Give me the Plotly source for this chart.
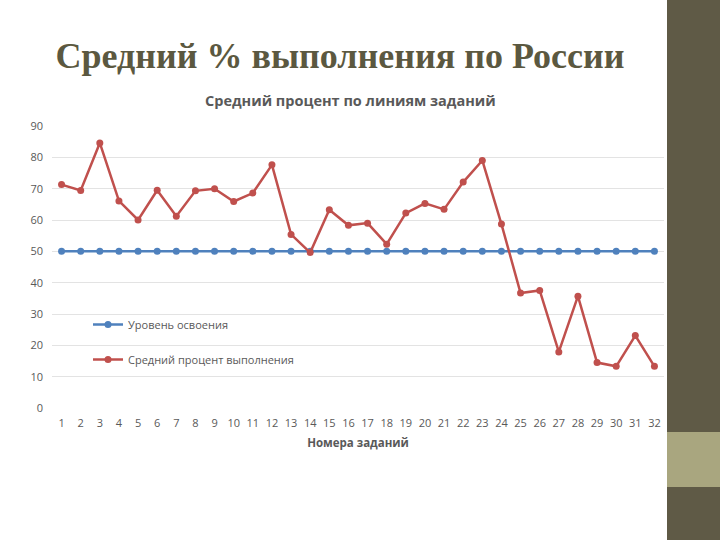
import plotly.graph_objects as go

tasks = list(range(1, 33))
mastery_level = [50] * 32
avg_percent = [71.3, 69.4, 84.6, 66.1, 60.0, 69.5, 61.2, 69.3, 70.0, 65.9, 68.6, 77.6,
               55.4, 49.6, 63.3, 58.3, 59.0, 52.3, 62.2, 65.3, 63.4, 72.1, 79.0, 58.7,
               36.7, 37.5, 17.9, 35.7, 14.5, 13.3, 23.1, 13.3]
series_names = ["Уровень освоения", "Средний процент выполнения"]
slide_title = "Средний % выполнения по России"
chart_title = "Средний процент по линиям заданий"
x_title = "Номера заданий"

BLUE = "#4f81bd"
RED = "#c0504d"
GRAY = "#595959"

fig = go.Figure()
fig.add_trace(go.Scatter(x=tasks, y=mastery_level, mode="lines+markers", name=series_names[0],
                         line=dict(color=BLUE, width=2.5), marker=dict(size=7, color=BLUE),
                         legendgroup="a"))
fig.add_trace(go.Scatter(x=tasks, y=avg_percent, mode="lines+markers", name=series_names[1],
                         line=dict(color=RED, width=2.5), marker=dict(size=7, color=RED),
                         legendgroup="b"))

L, R, T, B = 52, 56, 126, 132
W, H = 720, 540
pw = W - L - R
ph = H - T - B

def px_x(x):
    return (x - L) / pw

def px_y(y):
    return (H - B - y) / ph

fig.update_layout(
    width=W, height=H,
    margin=dict(l=L, r=R, t=T, b=B),
    paper_bgcolor="white", plot_bgcolor="white",
    font=dict(family="Open Sans, Liberation Sans, Arial, sans-serif", color=GRAY, size=11),
    title=dict(text="<b>" + slide_title + "</b>", x=340 / W, xref="container", xanchor="center",
               y=1 - 55 / H, yref="container", yanchor="middle",
               font=dict(family="Liberation Serif, Times New Roman, serif", size=36, color="#5b5840")),
    showlegend=True,
    legend=dict(x=px_x(88), y=px_y(310), xanchor="left", yanchor="top",
                bgcolor="rgba(0,0,0,0)", traceorder="grouped", tracegroupgap=16,
                font=dict(size=11, color=GRAY)),
    xaxis=dict(range=[0.5, 32.5], tickmode="array", tickvals=tasks, ticktext=[str(t) for t in tasks],
               showgrid=False, zeroline=False, showline=False, ticks="", ticklabelstandoff=7,
               tickfont=dict(size=11, color=GRAY),
               title=dict(text="<b>" + x_title + "</b>", font=dict(size=11.5, color=GRAY), standoff=9)),
    yaxis=dict(range=[0, 90], tickmode="linear", dtick=10, showgrid=True, gridcolor="#e3e3e3",
               gridwidth=1, zeroline=False, showline=False, ticks="", ticklabelstandoff=8,
               tickfont=dict(size=11, color=GRAY)),
    annotations=[dict(text="<b>" + chart_title + "</b>", xref="paper", yref="paper",
                      x=px_x(350), y=px_y(101), xanchor="center", yanchor="middle",
                      showarrow=False, font=dict(size=14.5, color=GRAY))],
    shapes=[
        dict(type="rect", xref="paper", yref="paper", x0=px_x(667), x1=px_x(725),
             y0=px_y(-5), y1=px_y(545), fillcolor="#5f5a46", line=dict(width=0), layer="above"),
        dict(type="rect", xref="paper", yref="paper", x0=px_x(667), x1=px_x(725),
             y0=px_y(487), y1=px_y(432), fillcolor="#a9a67f", line=dict(width=0), layer="above"),
    ],
)

fig.write_html("out.html", config={"displayModeBar": False},
               post_script="document.body.style.margin='0px';")
